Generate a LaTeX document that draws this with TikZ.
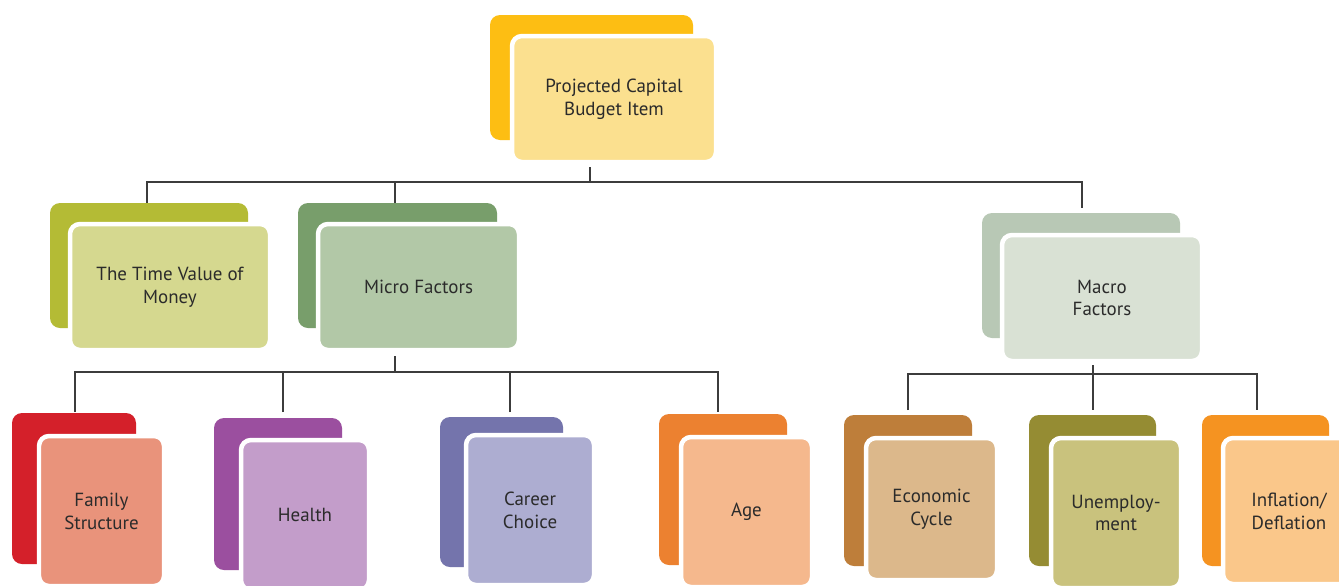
\documentclass[tikz,border=0pt]{standalone}
\usepackage{fontspec}
\setmainfont{PT Sans}
\definecolor{txt}{HTML}{2B2B2B}
\definecolor{lnc}{HTML}{3C3C3C}
\definecolor{topB}{HTML}{FDBE13}\definecolor{topF}{HTML}{FBE08F}
\definecolor{tvB}{HTML}{B4BB35}\definecolor{tvF}{HTML}{D5D88F}
\definecolor{micB}{HTML}{789E6B}\definecolor{micF}{HTML}{B2C8A7}
\definecolor{macB}{HTML}{B8C8B5}\definecolor{macF}{HTML}{D9E1D4}
\definecolor{famB}{HTML}{D4202A}\definecolor{famF}{HTML}{E9937B}
\definecolor{heaB}{HTML}{9B4F9F}\definecolor{heaF}{HTML}{C39DCA}
\definecolor{carB}{HTML}{7474AC}\definecolor{carF}{HTML}{ADADD1}
\definecolor{ageB}{HTML}{EC8130}\definecolor{ageF}{HTML}{F5B88D}
\definecolor{ecoB}{HTML}{BE7E3A}\definecolor{ecoF}{HTML}{DCB88B}
\definecolor{uneB}{HTML}{958C33}\definecolor{uneF}{HTML}{C9C27D}
\definecolor{infB}{HTML}{F59321}\definecolor{infF}{HTML}{FAC78A}
\tikzset{
  backcard/.style={rounded corners=0.2cm},
  frontcard/.style={rounded corners=0.2cm, draw=white, line width=0.09cm,
    inner sep=0pt, outer sep=0pt, align=center, text=txt,
    font=\fontsize{10.8}{13}\selectfont},
  conn/.style={draw=lnc, line width=0.7pt}
}
% name, back colour, front colour, back corner 1, back corner 2, front centre, width, height, text
\newcommand\mycard[9]{%
  \fill[backcard,#2] #4 rectangle #5;
  \node[frontcard,fill=#3,minimum width=#7*0.02cm,minimum height=#8*0.02cm] (#1) at #6 {#9};}
\begin{document}
\begin{tikzpicture}[x=0.02cm,y=-0.02cm]
\useasboundingbox (0,0) rectangle (1339,585);
\clip (0,0) rectangle (1339,585);
\fill[white] (0,0) rectangle (1339,585);
% top
\mycard{top}{topB}{topF}{(490,15)}{(693,140)}{(614,99)}{204}{126}{Projected Capital\\Budget Item}
% level 2
\mycard{tv}{tvB}{tvF}{(50,203)}{(248,328)}{(170,287)}{200}{126}{The Time Value of\\Money}
\mycard{mic}{micB}{micF}{(298,203)}{(497,328)}{(418.5,287)}{201}{126}{Micro Factors}
\mycard{mac}{macB}{macF}{(982,213)}{(1180,338)}{(1102,298)}{200}{126}{Macro\\Factors}
% level 3
\mycard{fam}{famB}{famF}{(12,413)}{(136,564)}{(101.5,511)}{125}{150}{Family\\Structure}
\mycard{hea}{heaB}{heaF}{(214,418)}{(342,570)}{(305,515)}{128}{150}{Health}
\mycard{car}{carB}{carF}{(440,417)}{(563,567)}{(530,510)}{128}{150}{Career\\Choice}
\mycard{age}{ageB}{ageF}{(659,414)}{(787,565)}{(746.5,512)}{131}{150}{Age}
\mycard{eco}{ecoB}{ecoF}{(844,415)}{(972,566)}{(931.5,509)}{131}{142}{Economic\\Cycle}
\mycard{une}{uneB}{uneF}{(1029,415)}{(1156,566)}{(1116,513)}{130}{150}{Unemploy-\\ment}
\mycard{inf}{infB}{infF}{(1202,415)}{(1329,566)}{(1289,511)}{132}{146}{Inflation/\\Deflation}
% connector points
\coordinate (bus1) at (0,182);
\coordinate (bus2) at (0,372);
\coordinate (bus3) at (0,374);
\coordinate (topout) at (590,167);
\coordinate (tvin) at (147,203);
\coordinate (micin) at (395,203);
\coordinate (macin) at (1082,208);
\coordinate (micout) at (395,356);
\coordinate (macout) at (1093,365);
\coordinate (famin) at (75,412);
\coordinate (heain) at (283,412);
\coordinate (carin) at (510,412);
\coordinate (agein) at (718,412);
\coordinate (ecoin) at (908,410);
\coordinate (unein) at (1093,410);
\coordinate (infin) at (1257,410);
% connectors
\draw[conn] (topout) -- (topout |- bus1);
\draw[conn] (tvin) -- (tvin |- bus1) -- (macin |- bus1) -- (macin);
\draw[conn] (micin) -- (micin |- bus1);
\draw[conn] (micout) -- (micout |- bus2);
\draw[conn] (famin) -- (famin |- bus2) -- (agein |- bus2) -- (agein);
\draw[conn] (heain) -- (heain |- bus2);
\draw[conn] (carin) -- (carin |- bus2);
\draw[conn] (macout) -- (unein);
\draw[conn] (ecoin) -- (ecoin |- bus3) -- (infin |- bus3) -- (infin);
\end{tikzpicture}
\end{document}
